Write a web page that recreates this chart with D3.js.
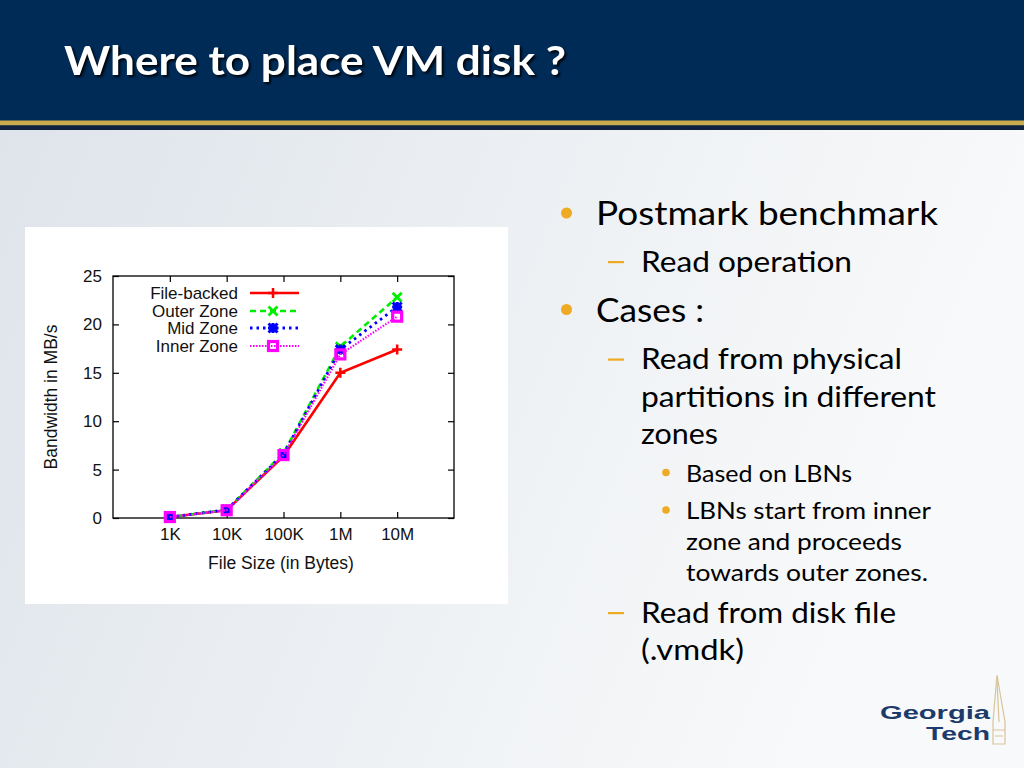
<!DOCTYPE html>
<html lang="en">
  <head>
    <title>vm_disk_zones</title>
    <script src="https://d3js.org/d3.v7.min.js"></script>
    <style>
      body {margin:0; padding:0; overflow:hidden; background-color:white;}
      .tick text {font-family:"Liberation Sans", Arial, sans-serif; font-size:17px; fill:#111;}
      .tick line {stroke:#000; stroke-width:1.2;}
      .domain {display:none;}
      .slide {font-family:Lato, "Open Sans", sans-serif; fill:#000;}
      .title {filter: drop-shadow(2px 2px 1px rgba(0,0,0,0.85));}
    </style>
  </head>
  <body>
    <script>
      // data
      var sizes = [1e3, 1e4, 1e5, 1e6, 1e7];
      var sizeLabels = ["1K", "10K", "100K", "1M", "10M"];
      var yTicks = [0, 5, 10, 15, 20, 25];
      var seriesNames = ["File-backed", "Outer Zone", "Mid Zone", "Inner Zone"];
      var fileBacked = [0.1, 0.8, 6.4, 15.0, 17.4];
      var outerZone = [0.1, 0.85, 6.7, 17.7, 22.8];
      var midZone = [0.1, 0.85, 6.6, 17.4, 21.8];
      var innerZone = [0.1, 0.8, 6.5, 16.9, 20.8];

      const W = 1024, H = 768;
      const svg = d3.select('body').append('svg').attr('width', W).attr('height', H);

      // slide background
      const defs = svg.append('defs');
      const grad = defs.append('linearGradient').attr('id', 'bg').attr('x1', 0).attr('y1', 0).attr('x2', 1).attr('y2', 0.3);
      grad.append('stop').attr('offset', '0%').attr('stop-color', '#dde3ea');
      grad.append('stop').attr('offset', '60%').attr('stop-color', '#eef1f4');
      grad.append('stop').attr('offset', '100%').attr('stop-color', '#f8f9fa');
      svg.append('rect').attr('width', W).attr('height', H).attr('fill', 'url(#bg)');

      // header band
      svg.append('rect').attr('x', 0).attr('y', 0).attr('width', W).attr('height', 130).attr('fill', '#012b57');
      svg.append('rect').attr('x', 0).attr('y', 120.5).attr('width', W).attr('height', 5).attr('fill', '#c9ac4c');
      svg.append('rect').attr('x', 0).attr('y', 125.5).attr('width', W).attr('height', 4.5).attr('fill', '#0f2340');

      svg.append('text').attr('x', 64).attr('y', 75).text("Where to place VM disk ?")
        .attr('class', 'slide title').attr('font-size', 40).attr('font-weight', 'bold')
        .attr('textLength', 502).attr('lengthAdjust', 'spacingAndGlyphs')
        .style('fill', '#fff');

      // bullets on the right
      const gold = '#eeaa22';
      var lines = [
        {t: "Postmark benchmark", x: 596, y: 225, s: 32, w: 342, mark: 'dot'},
        {t: "Read operation", x: 641, y: 271.5, s: 28, w: 211, mark: 'dash'},
        {t: "Cases :", x: 596, y: 321.5, s: 32, w: 108, mark: 'dot'},
        {t: "Read from physical", x: 641, y: 369, s: 28, w: 261, mark: 'dash'},
        {t: "partitions in different", x: 641, y: 406.5, s: 28, w: 295},
        {t: "zones", x: 641, y: 444, s: 28, w: 77},
        {t: "Based on LBNs", x: 686, y: 481.5, s: 23, w: 166, mark: 'small'},
        {t: "LBNs start from inner", x: 686, y: 519, s: 23, w: 245, mark: 'small'},
        {t: "zone and proceeds", x: 686, y: 550, s: 23, w: 216},
        {t: "towards outer zones.", x: 686, y: 581, s: 23, w: 242},
        {t: "Read from disk file", x: 641, y: 622.5, s: 28, w: 255, mark: 'dash'},
        {t: "(.vmdk)", x: 641, y: 660, s: 28, w: 103}
      ];
      const bl = svg.append('g');
      lines.forEach(function(l) {
        bl.append('text').attr('class', 'slide').attr('x', l.x).attr('y', l.y)
          .attr('font-size', l.s).attr('textLength', l.w).attr('lengthAdjust', 'spacingAndGlyphs').text(l.t);
        if (l.mark == 'dot')
          bl.append('circle').attr('cx', 566.5).attr('cy', l.y - 12).attr('r', 5.5).attr('fill', gold);
        if (l.mark == 'dash')
          bl.append('rect').attr('x', 608).attr('y', l.y - 10.5).attr('width', 16).attr('height', 2.2).attr('fill', gold);
        if (l.mark == 'small')
          bl.append('circle').attr('cx', 666).attr('cy', l.y - 9).attr('r', 3.8).attr('fill', gold);
      });

      // Georgia Tech logo
      const logo = svg.append('g').attr('font-family', '"Liberation Sans", Arial, sans-serif')
        .attr('font-weight', 'bold').attr('fill', '#1c3b6b');
      logo.append('text').attr('x', 990).attr('y', 719).attr('text-anchor', 'end').attr('font-size', 18.5)
        .attr('textLength', 110).attr('lengthAdjust', 'spacingAndGlyphs').text('Georgia');
      logo.append('text').attr('x', 990).attr('y', 740).attr('text-anchor', 'end').attr('font-size', 18.5)
        .attr('textLength', 64).attr('lengthAdjust', 'spacingAndGlyphs').text('Tech');
      const spire = svg.append('g').attr('fill', 'none').attr('stroke', '#d7c49a').attr('stroke-width', 1.2);
      spire.append('path').attr('d', 'M997,675 L993,722 L993,744 L1005,744 L1005,722 Z');
      spire.append('path').attr('d', 'M997,680 L999,722 M993,730 L1005,730 M995,736 L1003,736');

      // chart panel
      svg.append('rect').attr('x', 25).attr('y', 227).attr('width', 483).attr('height', 377).attr('fill', '#fff');

      const margin = {top: 276, left: 113, bottom: 518, right: 454};
      const x = d3.scaleLog().domain([100, 1e8]).range([margin.left, margin.right]);
      const y = d3.scaleLinear().domain([0, 25]).range([margin.bottom, margin.top]);

      const chart = svg.append('g');

      chart.append('g').attr('transform', `translate(0, ${margin.bottom})`)
        .call(d3.axisBottom(x).tickValues(sizes).tickFormat((d, i) => sizeLabels[i]).tickSize(-6).tickPadding(10));
      chart.append('g').attr('transform', `translate(0, ${margin.top})`)
        .call(d3.axisTop(x).tickValues(sizes).tickFormat('').tickSize(-6));
      chart.append('g').attr('transform', `translate(${margin.left}, 0)`)
        .call(d3.axisLeft(y).tickValues(yTicks).tickSize(-6).tickPadding(11));
      chart.append('g').attr('transform', `translate(${margin.right}, 0)`)
        .call(d3.axisRight(y).tickValues(yTicks).tickFormat('').tickSize(-6));

      chart.append('rect').attr('x', margin.left).attr('y', margin.top)
        .attr('width', margin.right - margin.left).attr('height', margin.bottom - margin.top)
        .attr('fill', 'none').attr('stroke', '#000').attr('stroke-width', 1.3);

      chart.append('text').attr('transform', 'translate(57, 397) rotate(-90)')
        .attr('text-anchor', 'middle').attr('font-family', '"Liberation Sans", Arial, sans-serif')
        .attr('font-size', 17.5).attr('fill', '#111').text('Bandwidth in MB/s');
      chart.append('text').attr('x', 281).attr('y', 569)
        .attr('text-anchor', 'middle').attr('font-family', '"Liberation Sans", Arial, sans-serif')
        .attr('font-size', 17.5).attr('fill', '#111').text('File Size (in Bytes)');

      // marker shapes
      function marker(g, type, cx, cy, color) {
        if (type == 'plus') {
          g.append('path').attr('d', `M${cx-5},${cy}H${cx+5}M${cx},${cy-5}V${cy+5}`)
            .attr('stroke', color).attr('stroke-width', 2.5).attr('fill', 'none');
        } else if (type == 'cross') {
          g.append('path').attr('d', `M${cx-4.5},${cy-4.5}L${cx+4.5},${cy+4.5}M${cx-4.5},${cy+4.5}L${cx+4.5},${cy-4.5}`)
            .attr('stroke', color).attr('stroke-width', 2.8).attr('fill', 'none');
        } else if (type == 'star') {
          g.append('path').attr('d', `M${cx-5},${cy}H${cx+5}M${cx},${cy-5}V${cy+5}M${cx-4.5},${cy-4.5}L${cx+4.5},${cy+4.5}M${cx-4.5},${cy+4.5}L${cx+4.5},${cy-4.5}`)
            .attr('stroke', color).attr('stroke-width', 3).attr('fill', 'none');
          g.append('rect').attr('x', cx - 3.5).attr('y', cy - 3.5).attr('width', 7).attr('height', 7).attr('fill', color);
        } else {
          g.append('rect').attr('x', cx - 4.5).attr('y', cy - 4.5).attr('width', 9).attr('height', 9)
            .attr('stroke', color).attr('stroke-width', 3.2).attr('fill', 'none');
        }
      }

      var series = [
        {name: seriesNames[0], values: fileBacked, color: '#ff0000', dash: null, width: 2.6, mark: 'plus'},
        {name: seriesNames[1], values: outerZone, color: '#00ee00', dash: '6,4', width: 2.6, mark: 'cross'},
        {name: seriesNames[2], values: midZone, color: '#0000ff', dash: '2.5,4', width: 2.8, mark: 'star'},
        {name: seriesNames[3], values: innerZone, color: '#ff00ff', dash: '1.5,1.5', width: 2.2, mark: 'square'}
      ];

      const line = d3.line().x(d => x(d[0])).y(d => y(d[1]));
      const legendY = [293, 311, 328, 346];

      series.forEach(function(s, i) {
        const g = chart.append('g');
        const pts = sizes.map((v, j) => [v, s.values[j]]);
        g.append('path').datum(pts).attr('d', line)
          .attr('fill', 'none').attr('stroke', s.color).attr('stroke-width', s.width)
          .attr('stroke-dasharray', s.dash);
        pts.forEach(p => marker(g, s.mark, x(p[0]), y(p[1]), s.color));

        // legend entry
        const ly = legendY[i];
        chart.append('text').attr('x', 238).attr('y', ly).attr('dy', '0.35em')
          .attr('text-anchor', 'end').attr('font-family', '"Liberation Sans", Arial, sans-serif')
          .attr('font-size', 17).attr('fill', '#111').text(s.name);
        chart.append('line').attr('x1', 250).attr('x2', 299).attr('y1', ly).attr('y2', ly)
          .attr('stroke', s.color).attr('stroke-width', s.width).attr('stroke-dasharray', s.dash);
        marker(chart, s.mark, 273, ly, s.color);
      });
    </script>
  </body>
</html>
